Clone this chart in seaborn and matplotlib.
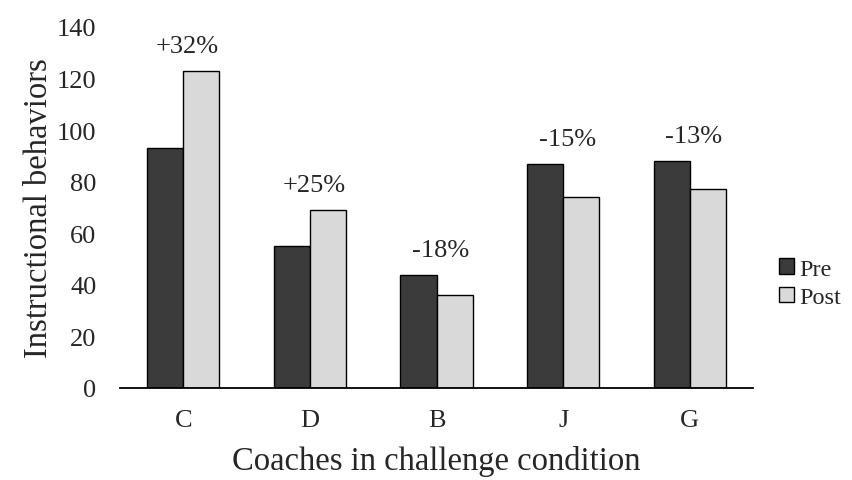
import pandas as pd
import numpy as np
import matplotlib.pyplot as plt
import seaborn as sns

# Values
coaches = ['C', 'D', 'B', 'J', 'G']
pre_values = [93, 55, 44, 87, 88]
post_values = [123, 69, 36, 74, 77]
change_labels = ['+32%', '+25%', '-18%', '-15%', '-13%']
phases = ['Pre', 'Post']

df = pd.DataFrame({
    'coach': coaches * 2,
    'phase': ['Pre'] * len(coaches) + ['Post'] * len(coaches),
    'value': pre_values + post_values,
})

sns.set_style('white')
plt.rcParams['font.family'] = ['Liberation Serif', 'DejaVu Serif']

fig = plt.figure(figsize=(8.53, 4.81), dpi=100)
ax = fig.add_axes([0.1407, 0.1913, 0.7421, 0.7505])

sns.barplot(data=df, x='coach', y='value', hue='phase', order=coaches,
            hue_order=phases, palette={'Pre': '#3b3b3b', 'Post': '#d9d9d9'},
            width=0.57, gap=0, edgecolor='black', linewidth=1.0,
            saturation=1, ax=ax)

# percent change labels above each group
for i, lab in enumerate(change_labels):
    top = max(pre_values[i], post_values[i])
    ax.annotate(lab, xy=(i, top), xytext=(3, 18), textcoords='offset points',
                ha='center', va='center', fontsize=19)

ax.set_ylim(0, 140)
ax.set_yticks(np.arange(0, 141, 20))
ax.set_xlim(-0.5, len(coaches) - 0.5)
ax.tick_params(axis='both', length=0, labelsize=19)
ax.tick_params(axis='y', pad=17)
ax.tick_params(axis='x', pad=15)
ax.set_ylabel('Instructional behaviors', fontsize=23.5, labelpad=2)
ax.set_xlabel('Coaches in challenge condition', fontsize=23.5, labelpad=10)

sns.despine(ax=ax, left=True)
ax.spines['bottom'].set_color('black')
ax.spines['bottom'].set_linewidth(1.3)

ax.legend(loc='center left', bbox_to_anchor=(1.022, 0.29), frameon=False,
          fontsize=17.5, handlelength=0.6, handleheight=0.6,
          handletextpad=0.25, labelspacing=0.3, borderpad=0)

fig.savefig('out.png', dpi=100)
